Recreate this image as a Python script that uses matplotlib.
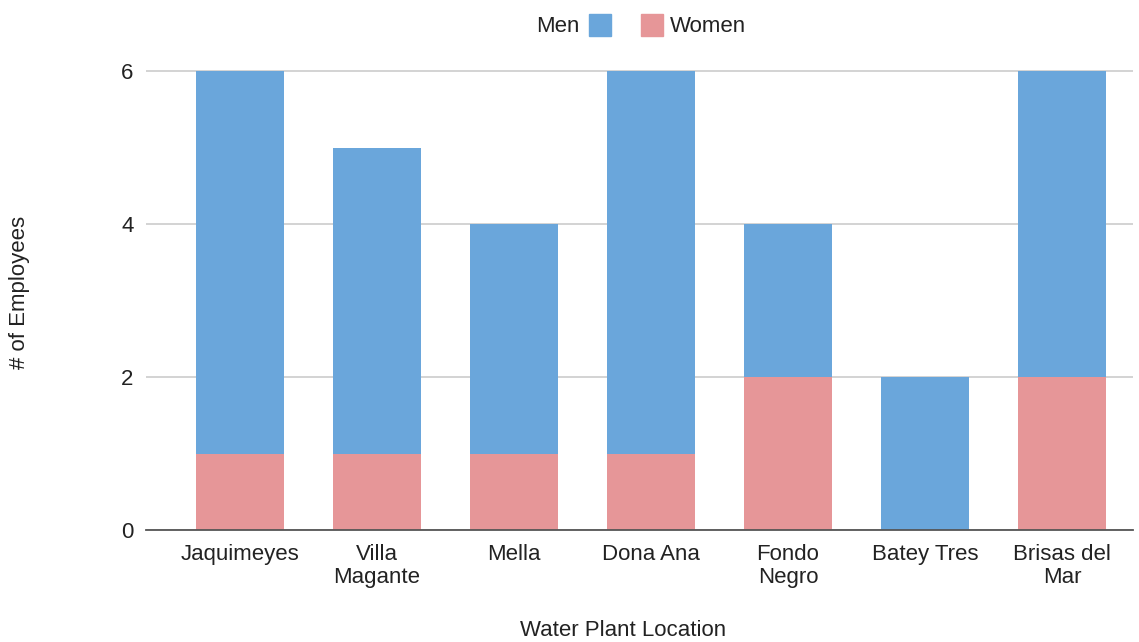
import matplotlib
matplotlib.use("Agg")
import matplotlib.pyplot as plt
from matplotlib.patches import Rectangle
import numpy as np

plt.rcParams['font.family'] = ['Liberation Sans', 'DejaVu Sans']

locations = ["Jaquimeyes", "Villa\nMagante", "Mella", "Dona Ana",
             "Fondo\nNegro", "Batey Tres", "Brisas del\nMar"]
women = [1, 1, 1, 1, 2, 0, 2]
men = [5, 4, 3, 5, 2, 2, 4]
y_ticks = [0, 2, 4, 6]

men_color = "#6aa6db"
women_color = "#e69698"
text_color = "#222222"
fs = 16

W, H = 1139, 642
fig = plt.figure(figsize=(W / 100, H / 100), dpi=100)
ax = fig.add_axes([146 / W, 1 - 530 / H, (1133 - 146) / W, (530 - 63.35) / H])

x = np.arange(len(locations))
width = 0.64
ax.bar(x, women, width, color=women_color, zorder=3)
ax.bar(x, men, width, bottom=women, color=men_color, zorder=3)

ax.set_xlim(-0.686, 6.518)
ax.set_ylim(0, 6.1)
ax.set_yticks(y_ticks)
ax.set_yticklabels([str(v) for v in y_ticks], fontsize=fs, color=text_color)
ax.set_xticks(x)
ax.set_xticklabels(locations, fontsize=fs, color=text_color, linespacing=1.15)
ax.tick_params(axis="y", length=0, pad=9)
ax.tick_params(axis="x", length=0, pad=10)

ax.grid(axis="y", color="#cccccc", linewidth=1.2, zorder=0)
for s in ["top", "right", "left"]:
    ax.spines[s].set_visible(False)
ax.spines["bottom"].set_color("#555555")
ax.spines["bottom"].set_linewidth(1.3)
ax.spines["bottom"].set_zorder(4)

fig.text(623.5 / W, 1 - 630 / H, "Water Plant Location", ha="center", va="center",
         fontsize=fs, color=text_color)
fig.text(20 / W, 1 - 292 / H, "# of Employees", ha="center", va="center",
         rotation=90, fontsize=fs, color=text_color)

# Legend: label before the Men swatch, label after the Women swatch
fig.text(580 / W, 1 - 26 / H, "Men", ha="right", va="center",
         fontsize=fs, color=text_color)
fig.patches.append(Rectangle((589 / W, 1 - 36 / H), 22 / W, 22 / H,
                             transform=fig.transFigure, color=men_color))
fig.patches.append(Rectangle((641 / W, 1 - 36 / H), 22 / W, 22 / H,
                             transform=fig.transFigure, color=women_color))
fig.text(670 / W, 1 - 26 / H, "Women", ha="left", va="center",
         fontsize=fs, color=text_color)

fig.savefig("out.png", dpi=100, facecolor="white")
